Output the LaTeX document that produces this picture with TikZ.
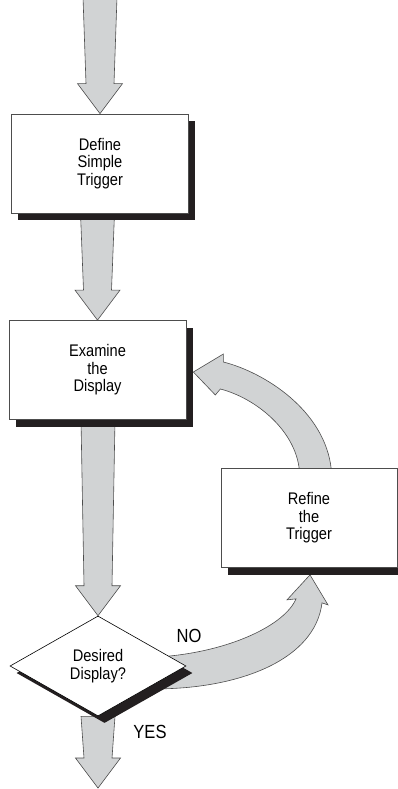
\documentclass[tikz,border=0pt]{standalone}
\usepackage{fontspec}
\newfontfamily\bxf[FakeStretch=0.87]{Liberation Sans}
\usetikzlibrary{shapes.geometric,shadows,calc}
\definecolor{arrowfill}{HTML}{D1D3D4}
\definecolor{shadowc}{HTML}{231F20}
\definecolor{edgec}{HTML}{4D4D4D}
\pgfdeclarelayer{bg}
\pgfsetlayers{bg,main}
\newcommand{\blockdown}[2]{%
 \path[blockarrow] let \p1=(#1), \p2=(#2) in
   (\x2-17pt,\y1) -- (\x2+17pt,\y1) -- (\x2+14pt,\y2+30pt) -- (\x2+22.5pt,\y2+30pt)
   -- (\x2,\y2) -- (\x2-22.5pt,\y2+30pt) -- (\x2-14pt,\y2+30pt) -- cycle;}
\begin{document}
\begin{tikzpicture}[x=1pt,y=-1pt,
 blockarrow/.style={fill=arrowfill, draw=edgec, line width=0.6pt, line join=miter},
 shadowed/.style={drop shadow={shadow xshift=6.5pt, shadow yshift=-7pt, fill=shadowc, opacity=1}},
 box/.style={rectangle, draw=edgec, line width=0.7pt, fill=white, minimum width=177pt,
   minimum height=99pt, align=center, inner sep=0pt,
   font=\bxf\fontsize{16.8}{17.5}\selectfont, shadowed},
 decision/.style={diamond, draw=black, line width=0.6pt, fill=white, minimum width=176pt,
   minimum height=100pt, align=center, inner sep=0pt,
   font=\bxf\fontsize{16.8}{18}\selectfont, shadowed},
 lab/.style={font=\bxf\fontsize{19}{19}\selectfont, inner sep=0pt}]
\useasboundingbox (0,0) rectangle (397,789);
\node[box] (def) at (100,163.5) {Define\\Simple\\Trigger};
\node[box] (exa) at (97.5,370) {Examine\\the\\Display};
\node[box, minimum width=176pt] (ref) at (309,518) {Refine\\the\\Trigger};
\node[decision] (dec) at (98,666) {Desired\\Display?};
\coordinate (in) at (100,-3);
\coordinate (out) at (98,788);
\node[lab] (no) at (189,636) {NO};
\node[lab] (yes) at (150,732) {YES};
\begin{pgfonlayer}{bg}
 \blockdown{in}{def.north}
 \blockdown{def.south}{exa.north}
 \blockdown{exa.south}{dec.north}
 \blockdown{dec.south}{out}
 \coordinate (ut) at ($(exa.east)+(7,2)$);
 \path[blockarrow] (ut) -- ($(ut)+(30,-18)$) -- ($(ut)+(30,-10)$)
   .. controls ($(ut)+(70,0)$) and ($(ut)+(132,38)$) .. ($(ut)+(138,98)$)
   -- ($(ut)+(106,98)$)
   .. controls ($(ut)+(102,58)$) and ($(ut)+(62,26)$) .. ($(ut)+(27,17)$)
   -- ($(ut)+(22,23)$) -- cycle;
 \coordinate (bt) at ($(ref.south)+(1,7)$);
 \path[blockarrow] (bt) -- ($(bt)+(18,30)$) -- ($(bt)+(12,28)$)
   .. controls ($(bt)+(5,85)$) and ($(bt)+(-70,113)$) .. ($(bt)+(-150,114)$)
   -- ($(bt)+(-150,82)$)
   .. controls ($(bt)+(-80,77)$) and ($(bt)+(-25,50)$) .. ($(bt)+(-14,24)$)
   -- ($(bt)+(-23,25)$) -- cycle;
\end{pgfonlayer}
\end{tikzpicture}
\end{document}
